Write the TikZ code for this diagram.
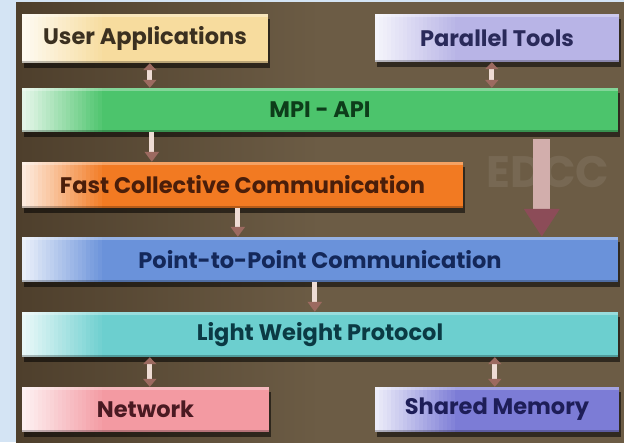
\documentclass[tikz,border=0pt]{standalone}
\usepackage{fontspec}
\setmainfont{Poppins}
\usetikzlibrary{arrows.meta,shadows}

% panel and box colours
\definecolor{outerblue}{HTML}{D4E4F4}
\definecolor{panel}{HTML}{6C5C45}
\definecolor{paneldark}{HTML}{4E3F2C}
\definecolor{cUser}{HTML}{F7DC9E}
\definecolor{cTools}{HTML}{B8B4E6}
\definecolor{cMpi}{HTML}{4CC46C}
\definecolor{cColl}{HTML}{F27A22}
\definecolor{cPtp}{HTML}{6A92DA}
\definecolor{cLwp}{HTML}{6CCFCF}
\definecolor{cNet}{HTML}{F39AA2}
\definecolor{cShm}{HTML}{7C7CD6}
\definecolor{tUser}{HTML}{3B3020}
\definecolor{tTools}{HTML}{2A2A5A}
\definecolor{tMpi}{HTML}{0D3D1A}
\definecolor{tColl}{HTML}{4A1E0A}
\definecolor{tPtp}{HTML}{14285A}
\definecolor{tLwp}{HTML}{0B3A44}
\definecolor{tNet}{HTML}{4A1A22}
\definecolor{tShm}{HTML}{1E1E58}
\definecolor{shaft}{HTML}{EEDCD4}
\definecolor{tipc}{HTML}{9C6A60}
\definecolor{bigshaft}{HTML}{D2AEAC}
\definecolor{bigtip}{HTML}{8C4C58}

\tikzset{
  layer/.style={
    fill=#1, draw=none, inner sep=0pt, anchor=center,
    font=\bfseries\fontsize{22.5}{26}\selectfont,
    drop shadow={shadow xshift=2pt, shadow yshift=-5pt, fill=black, opacity=0.55},
    path picture={
      % light glare fading in from the left edge
      \foreach \i [evaluate=\i as \p using int(15+4.25*\i)] in {0,...,20}
        \fill[#1!\p!white]
          ([xshift=\i*4pt]path picture bounding box.south west) rectangle
          ([xshift=\i*4pt+4.4pt]path picture bounding box.north west);
      \fill[white, opacity=0.3]
        (path picture bounding box.north west) rectangle
        ([yshift=-3pt]path picture bounding box.north east);
      \fill[black, opacity=0.25]
        (path picture bounding box.south west) rectangle
        ([yshift=2pt]path picture bounding box.south east);
    }
  },
  dbl/.style={line width=5pt, draw=shaft,
    {Triangle[width=13pt,length=7pt,color=tipc]}-{Triangle[width=13pt,length=8pt,color=tipc]}},
  down/.style={line width=5pt, draw=shaft,
    -{Triangle[width=14pt,length=10pt,color=tipc]}},
  bigdown/.style={line width=17pt, draw=bigshaft,
    -{Triangle[width=34pt,length=28pt,color=bigtip]}}
}

\begin{document}
\begin{tikzpicture}[x=1pt, y=1pt]
  % page and background panel
  \fill[outerblue] (0,0) rectangle (624,442);
  \useasboundingbox (0,0) rectangle (624,442);
  \shade[left color=paneldark, right color=panel, middle color=panel] (16,0) rectangle (624,439);

  % faint logo behind the layers
  \node[text=white, opacity=0.08, font=\bfseries\fontsize{44}{44}\selectfont] (logo) at (548,270) {EDCC};

  % layers
  \node[layer=cUser,  minimum width=246pt, minimum height=49pt, text=tUser]  (ua)  at (145,403.5) {User Applications};
  \node[layer=cTools, minimum width=244pt, minimum height=48pt, text=tTools] (pt)  at (497,404)   {Parallel Tools};
  \node[layer=cMpi,   minimum width=596pt, minimum height=44pt, text=tMpi]   (mpi) at (320,332)   {MPI - API};
  \node[layer=cColl,  minimum width=441pt, minimum height=46pt, text=tColl]  (fcc) at (242.5,257) {Fast Collective Communication};
  \node[layer=cPtp,   minimum width=596pt, minimum height=45pt, text=tPtp]   (ptp) at (320,182.5) {Point-to-Point Communication};
  \node[layer=cLwp,   minimum width=596pt, minimum height=45pt, text=tLwp]   (lwp) at (320,107.5) {Light Weight Protocol};
  \node[layer=cNet,   minimum width=247pt, minimum height=45pt, text=tNet]   (net) at (145.5,32.5) {Network};
  \node[layer=cShm,   minimum width=244pt, minimum height=45pt, text=tShm]   (shm) at (497,32.5)  {Shared Memory};

  % connectors
  \draw[dbl] ([xshift=128pt]ua.south west) -- ([xshift=128pt]mpi.north west);
  \draw[dbl] ([xshift=117pt]pt.south west) -- ([xshift=470pt]mpi.north west);
  \draw[down] ([xshift=130pt]mpi.south west) -- ([xshift=130pt]fcc.north west);
  \draw[down] ([xshift=216pt]fcc.south west) -- ([xshift=216pt]ptp.north west);
  \draw[bigdown] ([xshift=520pt,yshift=-7pt]mpi.south west) -- ([xshift=520pt]ptp.north west);
  \draw[down] ([xshift=293pt]ptp.south west) -- ([xshift=293pt]lwp.north west);
  \draw[dbl] ([xshift=128pt]lwp.south west) -- ([xshift=128pt]net.north west);
  \draw[dbl] ([xshift=473pt]lwp.south west) -- ([xshift=120pt]shm.north west);
\end{tikzpicture}
\end{document}
